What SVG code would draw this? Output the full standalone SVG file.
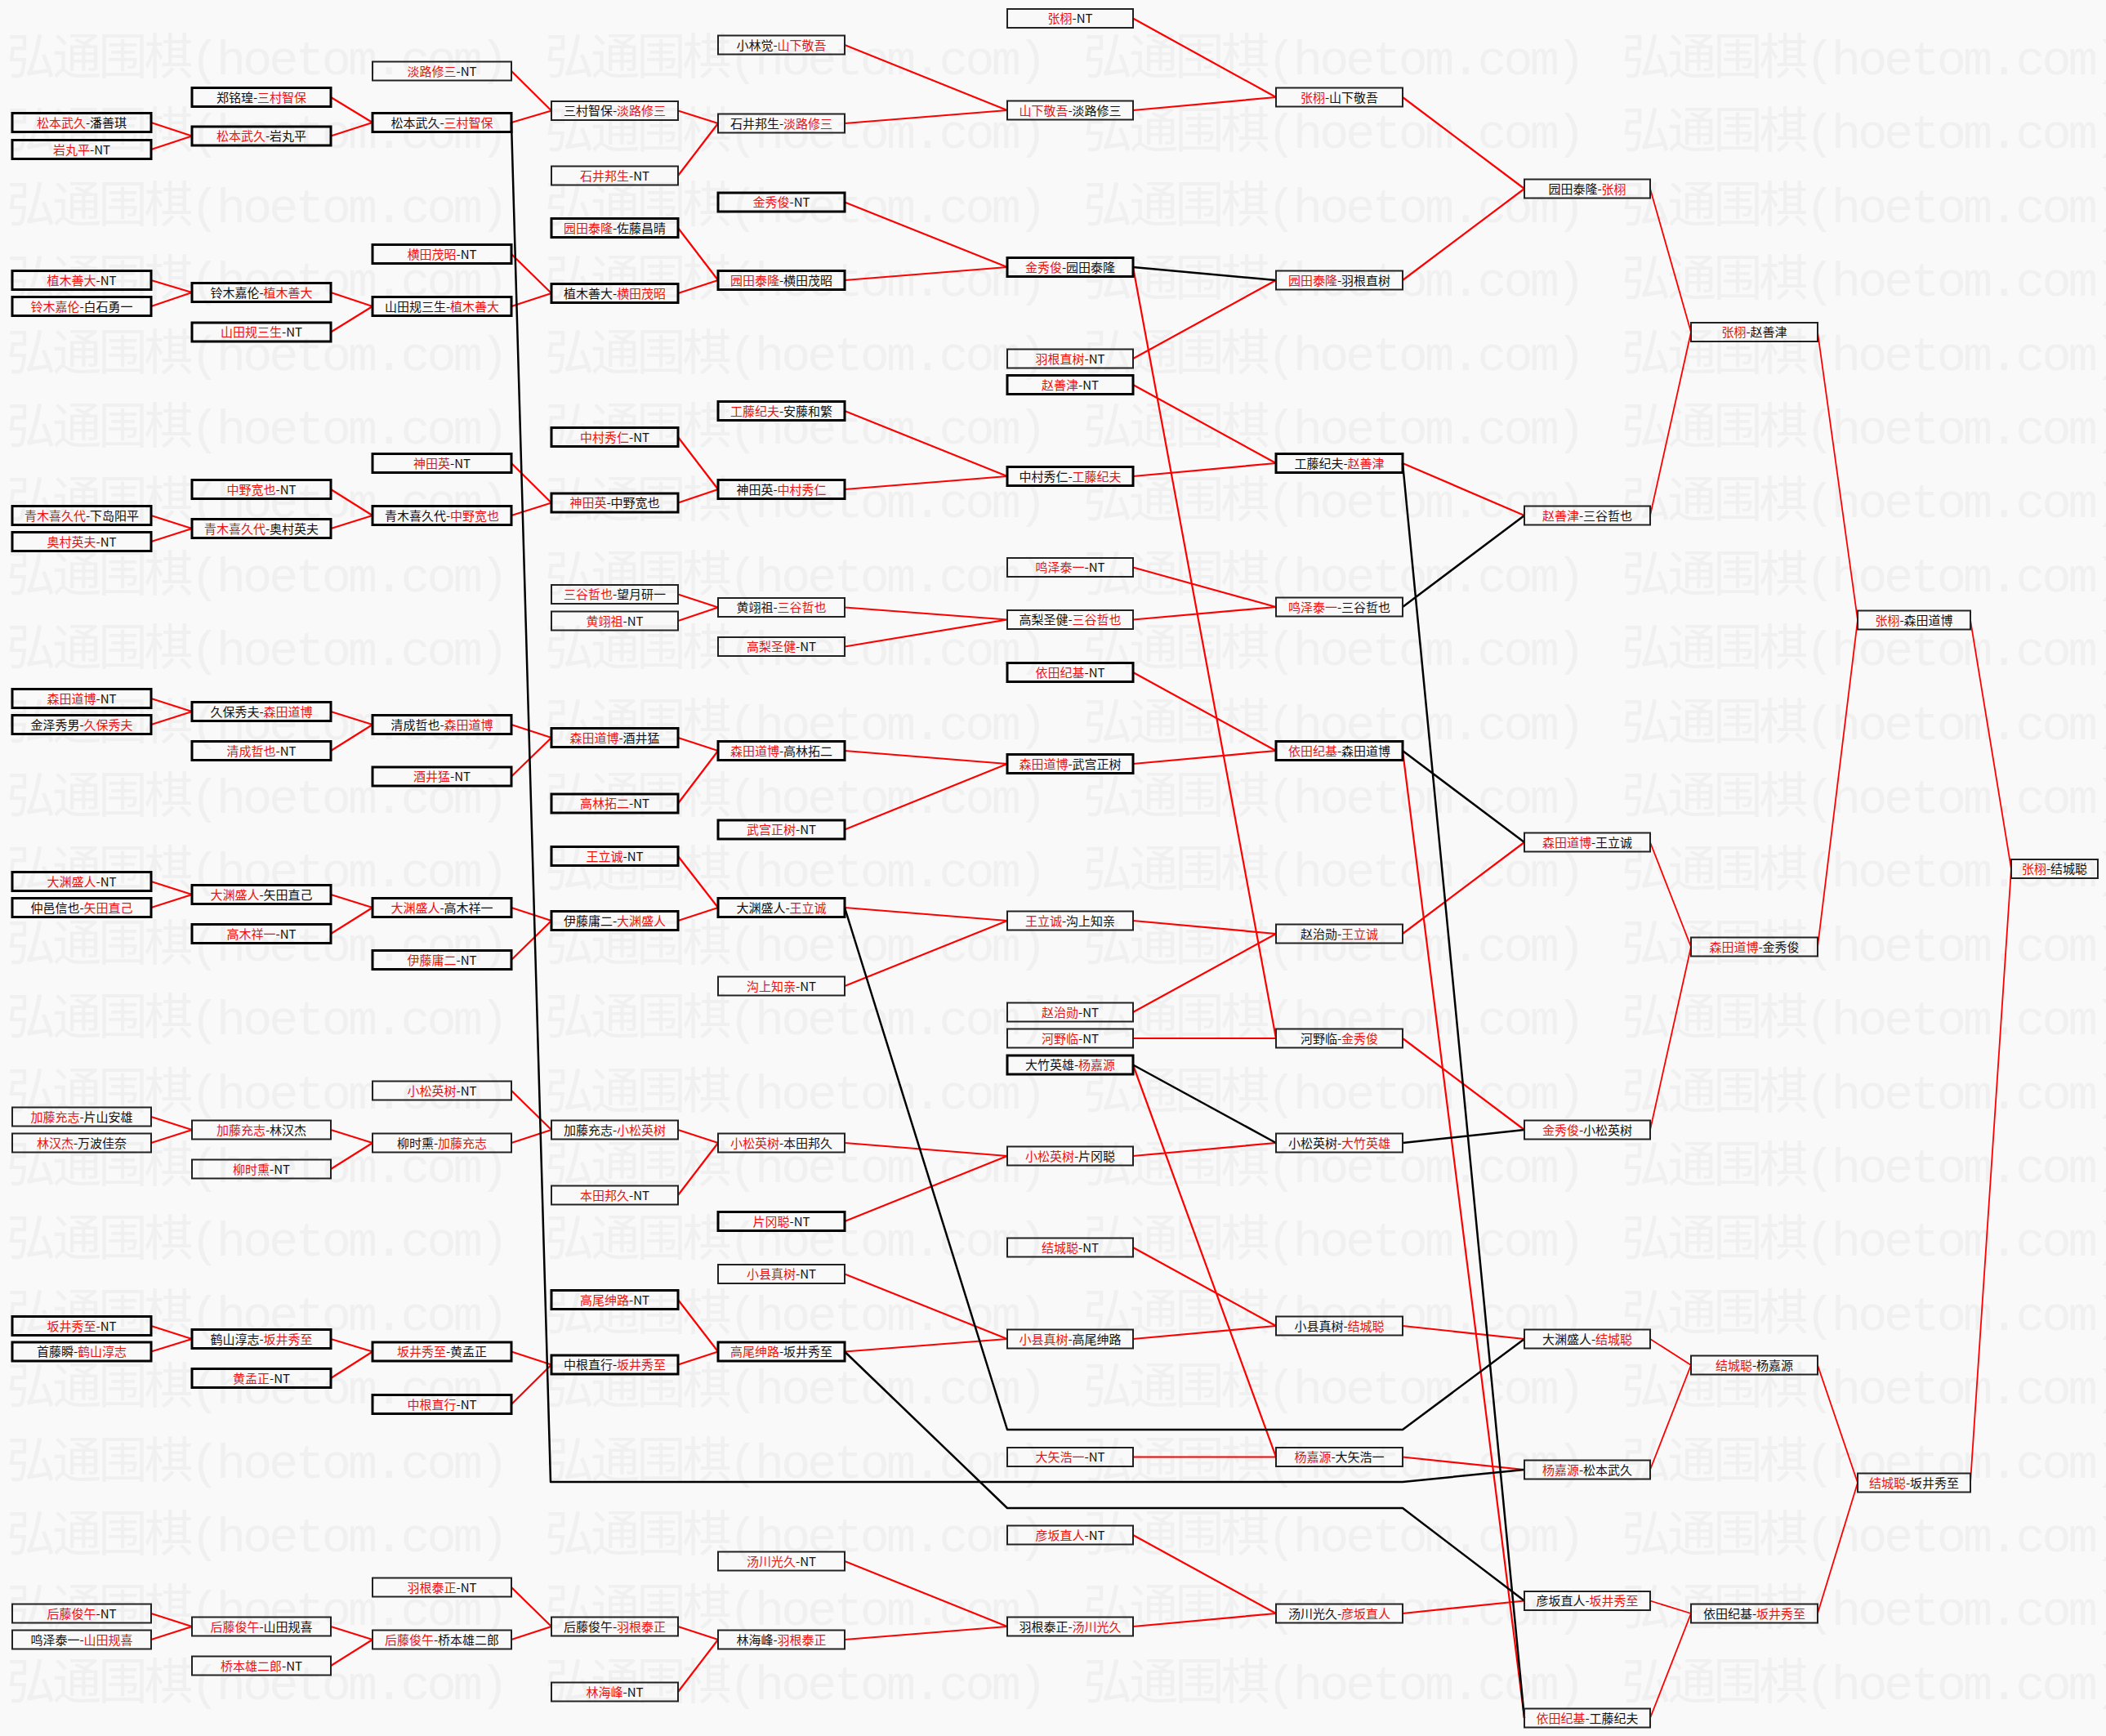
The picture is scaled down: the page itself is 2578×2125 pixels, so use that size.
<svg xmlns="http://www.w3.org/2000/svg" xmlns:xlink="http://www.w3.org/1999/xlink" width="2578" height="2125" viewBox="0 0 2578 2125">
<style>
.bg{fill:#f9f9f9}
.wm text{font-family:"Liberation Mono","Noto Sans CJK SC",monospace;font-size:60px;fill:#f0f0f0}
.n rect{fill:none;stroke:#222;stroke-width:2}
.n.k rect{stroke:#000;stroke-width:3}
.n text{font-family:"Noto Sans CJK SC","Noto Sans",sans-serif;font-size:15px;fill:#111;text-anchor:middle}
.r{fill:#ee1111}
.cr{stroke:#f00;stroke-width:2.2;fill:none}
.crt{stroke:#f00;stroke-width:1.8;fill:none}
.cb{stroke:#000;stroke-width:2.5;fill:none;stroke-linejoin:round}
</style>
<defs>
<g id="wmrow" class="wm">
<text x="8" y="0" textLength="615" lengthAdjust="spacing">弘通围棋(hoetom.com)</text>
<text x="667" y="0" textLength="615" lengthAdjust="spacing">弘通围棋(hoetom.com)</text>
<text x="1326" y="0" textLength="615" lengthAdjust="spacing">弘通围棋(hoetom.com)</text>
<text x="1985" y="0" textLength="615" lengthAdjust="spacing">弘通围棋(hoetom.com)</text>
</g>
</defs>
<rect class="bg" x="0" y="0" width="2578" height="2125"/>
<g id="watermark">
<use xlink:href="#wmrow" y="91"/>
<use xlink:href="#wmrow" y="181.4"/>
<use xlink:href="#wmrow" y="271.8"/>
<use xlink:href="#wmrow" y="362.2"/>
<use xlink:href="#wmrow" y="452.6"/>
<use xlink:href="#wmrow" y="543"/>
<use xlink:href="#wmrow" y="633.4"/>
<use xlink:href="#wmrow" y="723.8"/>
<use xlink:href="#wmrow" y="814.2"/>
<use xlink:href="#wmrow" y="904.6"/>
<use xlink:href="#wmrow" y="995"/>
<use xlink:href="#wmrow" y="1085.4"/>
<use xlink:href="#wmrow" y="1175.8"/>
<use xlink:href="#wmrow" y="1266.2"/>
<use xlink:href="#wmrow" y="1356.6"/>
<use xlink:href="#wmrow" y="1447"/>
<use xlink:href="#wmrow" y="1537.4"/>
<use xlink:href="#wmrow" y="1627.8"/>
<use xlink:href="#wmrow" y="1718.2"/>
<use xlink:href="#wmrow" y="1808.6"/>
<use xlink:href="#wmrow" y="1899"/>
<use xlink:href="#wmrow" y="1989.4"/>
<use xlink:href="#wmrow" y="2079.8"/>
</g>
<g id="connectors">
<path class="cr" d="M185 150L235 166.5M185 183L235 166.5M185 343L235 358M185 375L235 358M185 631L235 647M185 663L235 647M185 855L235 871M185 887L235 871M185 1079L235 1095M185 1111L235 1095M185 1367L235 1383M185 1399L235 1383M185 1623L235 1639M185 1654.5L235 1639M185 1975L235 1991M185 2007L235 1991"/>
<path class="cr" d="M405 119L456 150M405 166.5L456 150M405 358L456 375M405 406.5L456 375M405 599L456 631M405 647L456 631M405 871L456 887M405 919L456 887M405 1095L456 1111M405 1143L456 1111M405 1383L456 1399M405 1431L456 1399M405 1639L456 1654.5M405 1687L456 1654.5M405 1991L456 2007M405 2039L456 2007"/>
<path class="cr" d="M626 87L675 135.5M626 150L675 135.5M626 311L675 359M626 375L675 359M626 567L675 615.5M626 631L675 615.5M626 887L675 903M626 950.5L675 903M626 1111L675 1127M626 1175L675 1127M626 1335L675 1383M626 1399L675 1383M626 1654.5L675 1670.5M626 1719L675 1670.5M626 1943L675 1991M626 2007L675 1991"/>
<path class="cr" d="M830 135.5L879 151M830 215L879 151M830 279L879 343M830 359L879 343M830 535L879 599M830 615.5L879 599M830 727.5L879 743.5M830 760L879 743.5M830 903L879 919M830 983.5L879 919M830 1048L879 1111M830 1127L879 1111M830 1383L879 1399M830 1463L879 1399M830 1591L879 1654.5M830 1670.5L879 1654.5M830 1991L879 2007M830 2071L879 2007"/>
<path class="cr" d="M1034 55L1233 135M1034 151L1233 135M1034 247.5L1233 327M1034 343L1233 327M1034 503L1233 583M1034 599L1233 583M1034 743.5L1233 758.5M1034 791.5L1233 758.5M1034 919L1233 935M1034 1015.5L1233 935M1034 1111L1233 1127M1034 1207L1233 1127M1034 1399L1233 1415M1034 1495L1233 1415M1034 1559.5L1233 1639M1034 1654.5L1233 1639M1034 1911L1233 1991M1034 2007L1233 1991"/>
<path class="cr" d="M1387 22.5L1562 119M1387 135L1562 119M1387 439L1562 343M1387 471L1562 567M1387 583L1562 567M1387 694.5L1562 743M1387 758.5L1562 743M1387 823L1562 919M1387 935L1562 919M1387 1127L1562 1143M1387 1239L1562 1143M1387 1271L1562 1271M1387 327L1562 1271M1387 1415L1562 1399M1387 1527L1562 1623M1387 1639L1562 1623M1387 1783.5L1562 1783.5M1387 1303.5L1562 1783.5M1387 1879L1562 1975M1387 1991L1562 1975"/>
<path class="cr" d="M1717 119L1866 231M1717 343L1866 231M1717 567L1866 631M1717 1143L1866 1031M1717 1271L1866 1383M1717 1623L1866 1639M1717 1783.5L1866 1799M1717 1975L1866 1959.5M1717 919L1866 2103"/>
<path class="crt" d="M2020 231L2070 406.5M2020 631L2070 406.5M2020 1031L2070 1159M2020 1383L2070 1159M2020 1639L2070 1671M2020 1799L2070 1671M2020 1959.5L2070 1975M2020 2103L2070 1975M2225 406.5L2274 759M2225 1159L2274 759M2225 1671L2274 1815M2225 1975L2274 1815M2412 759L2462 1063.5M2412 1815L2462 1063.5"/>
<path class="cb" d="M626 150L674 1814L1717 1814L1866 1799"/>
<path class="cb" d="M1034 1111L1233 1750L1717 1750L1866 1639"/>
<path class="cb" d="M1034 1654.5L1233 1846L1717 1846L1866 1959.5"/>
<path class="cb" d="M1387 327L1562 343M1387 1303.5L1562 1399M1717 567L1866 2103M1717 743L1866 631M1717 919L1866 1031M1717 1399L1866 1383"/>
</g>
<g id="nodes">
<g id="A1" class="n k"><rect x="15" y="138.5" width="170" height="23"/><text x="100" y="155.5"><tspan class="r">松本武久</tspan>-潘善琪</text></g>
<g id="A2" class="n k"><rect x="15" y="171.5" width="170" height="23"/><text x="100" y="188.5"><tspan class="r">岩丸平</tspan>-NT</text></g>
<g id="A3" class="n k"><rect x="15" y="331.5" width="170" height="23"/><text x="100" y="348.5"><tspan class="r">植木善大</tspan>-NT</text></g>
<g id="A4" class="n k"><rect x="15" y="363.5" width="170" height="23"/><text x="100" y="380.5"><tspan class="r">铃木嘉伦</tspan>-白石勇一</text></g>
<g id="A5" class="n k"><rect x="15" y="619.5" width="170" height="23"/><text x="100" y="636.5"><tspan class="r">青木喜久代</tspan>-下岛阳平</text></g>
<g id="A6" class="n k"><rect x="15" y="651.5" width="170" height="23"/><text x="100" y="668.5"><tspan class="r">奥村英夫</tspan>-NT</text></g>
<g id="A7" class="n k"><rect x="15" y="843.5" width="170" height="23"/><text x="100" y="860.5"><tspan class="r">森田道博</tspan>-NT</text></g>
<g id="A8" class="n k"><rect x="15" y="875.5" width="170" height="23"/><text x="100" y="892.5">金泽秀男-<tspan class="r">久保秀夫</tspan></text></g>
<g id="A9" class="n k"><rect x="15" y="1067.5" width="170" height="23"/><text x="100" y="1084.5"><tspan class="r">大渊盛人</tspan>-NT</text></g>
<g id="A10" class="n k"><rect x="15" y="1099.5" width="170" height="23"/><text x="100" y="1116.5">仲邑信也-<tspan class="r">矢田直己</tspan></text></g>
<g id="A11" class="n"><rect x="15" y="1355.5" width="170" height="23"/><text x="100" y="1372.5"><tspan class="r">加藤充志</tspan>-片山安雄</text></g>
<g id="A12" class="n"><rect x="15" y="1387.5" width="170" height="23"/><text x="100" y="1404.5"><tspan class="r">林汉杰</tspan>-万波佳奈</text></g>
<g id="A13" class="n k"><rect x="15" y="1611.5" width="170" height="23"/><text x="100" y="1628.5"><tspan class="r">坂井秀至</tspan>-NT</text></g>
<g id="A14" class="n k"><rect x="15" y="1643" width="170" height="23"/><text x="100" y="1660">首藤瞬-<tspan class="r">鹤山淳志</tspan></text></g>
<g id="A15" class="n"><rect x="15" y="1963.5" width="170" height="23"/><text x="100" y="1980.5"><tspan class="r">后藤俊午</tspan>-NT</text></g>
<g id="A16" class="n"><rect x="15" y="1995.5" width="170" height="23"/><text x="100" y="2012.5">鸣泽泰一-<tspan class="r">山田规喜</tspan></text></g>

<g id="B1" class="n k"><rect x="235" y="107.5" width="170" height="23"/><text x="320" y="124.5">郑铭瑝-<tspan class="r">三村智保</tspan></text></g>
<g id="B2" class="n k"><rect x="235" y="155" width="170" height="23"/><text x="320" y="172"><tspan class="r">松本武久</tspan>-岩丸平</text></g>
<g id="B3" class="n k"><rect x="235" y="346.5" width="170" height="23"/><text x="320" y="363.5">铃木嘉伦-<tspan class="r">植木善大</tspan></text></g>
<g id="B4" class="n k"><rect x="235" y="395" width="170" height="23"/><text x="320" y="412"><tspan class="r">山田规三生</tspan>-NT</text></g>
<g id="B5" class="n k"><rect x="235" y="587.5" width="170" height="23"/><text x="320" y="604.5"><tspan class="r">中野宽也</tspan>-NT</text></g>
<g id="B6" class="n k"><rect x="235" y="635.5" width="170" height="23"/><text x="320" y="652.5"><tspan class="r">青木喜久代</tspan>-奥村英夫</text></g>
<g id="B7" class="n k"><rect x="235" y="859.5" width="170" height="23"/><text x="320" y="876.5">久保秀夫-<tspan class="r">森田道博</tspan></text></g>
<g id="B8" class="n k"><rect x="235" y="907.5" width="170" height="23"/><text x="320" y="924.5"><tspan class="r">清成哲也</tspan>-NT</text></g>
<g id="B9" class="n k"><rect x="235" y="1083.5" width="170" height="23"/><text x="320" y="1100.5"><tspan class="r">大渊盛人</tspan>-矢田直己</text></g>
<g id="B10" class="n k"><rect x="235" y="1131.5" width="170" height="23"/><text x="320" y="1148.5"><tspan class="r">高木祥一</tspan>-NT</text></g>
<g id="B11" class="n"><rect x="235" y="1371.5" width="170" height="23"/><text x="320" y="1388.5"><tspan class="r">加藤充志</tspan>-林汉杰</text></g>
<g id="B12" class="n"><rect x="235" y="1419.5" width="170" height="23"/><text x="320" y="1436.5"><tspan class="r">柳时熏</tspan>-NT</text></g>
<g id="B13" class="n k"><rect x="235" y="1627.5" width="170" height="23"/><text x="320" y="1644.5">鹤山淳志-<tspan class="r">坂井秀至</tspan></text></g>
<g id="B14" class="n k"><rect x="235" y="1675.5" width="170" height="23"/><text x="320" y="1692.5"><tspan class="r">黄孟正</tspan>-NT</text></g>
<g id="B15" class="n"><rect x="235" y="1979.5" width="170" height="23"/><text x="320" y="1996.5"><tspan class="r">后藤俊午</tspan>-山田规喜</text></g>
<g id="B16" class="n"><rect x="235" y="2027.5" width="170" height="23"/><text x="320" y="2044.5"><tspan class="r">桥本雄二郎</tspan>-NT</text></g>

<g id="C1" class="n"><rect x="456" y="75.5" width="170" height="23"/><text x="541" y="92.5"><tspan class="r">淡路修三</tspan>-NT</text></g>
<g id="C2" class="n k"><rect x="456" y="138.5" width="170" height="23"/><text x="541" y="155.5">松本武久-<tspan class="r">三村智保</tspan></text></g>
<g id="C3" class="n k"><rect x="456" y="299.5" width="170" height="23"/><text x="541" y="316.5"><tspan class="r">横田茂昭</tspan>-NT</text></g>
<g id="C4" class="n k"><rect x="456" y="363.5" width="170" height="23"/><text x="541" y="380.5">山田规三生-<tspan class="r">植木善大</tspan></text></g>
<g id="C5" class="n k"><rect x="456" y="555.5" width="170" height="23"/><text x="541" y="572.5"><tspan class="r">神田英</tspan>-NT</text></g>
<g id="C6" class="n k"><rect x="456" y="619.5" width="170" height="23"/><text x="541" y="636.5">青木喜久代-<tspan class="r">中野宽也</tspan></text></g>
<g id="C7" class="n k"><rect x="456" y="875.5" width="170" height="23"/><text x="541" y="892.5">清成哲也-<tspan class="r">森田道博</tspan></text></g>
<g id="C8" class="n k"><rect x="456" y="939" width="170" height="23"/><text x="541" y="956"><tspan class="r">酒井猛</tspan>-NT</text></g>
<g id="C9" class="n k"><rect x="456" y="1099.5" width="170" height="23"/><text x="541" y="1116.5"><tspan class="r">大渊盛人</tspan>-高木祥一</text></g>
<g id="C10" class="n k"><rect x="456" y="1163.5" width="170" height="23"/><text x="541" y="1180.5"><tspan class="r">伊藤庸二</tspan>-NT</text></g>
<g id="C11" class="n"><rect x="456" y="1323.5" width="170" height="23"/><text x="541" y="1340.5"><tspan class="r">小松英树</tspan>-NT</text></g>
<g id="C12" class="n"><rect x="456" y="1387.5" width="170" height="23"/><text x="541" y="1404.5">柳时熏-<tspan class="r">加藤充志</tspan></text></g>
<g id="C13" class="n k"><rect x="456" y="1643" width="170" height="23"/><text x="541" y="1660"><tspan class="r">坂井秀至</tspan>-黄孟正</text></g>
<g id="C14" class="n k"><rect x="456" y="1707.5" width="170" height="23"/><text x="541" y="1724.5"><tspan class="r">中根直行</tspan>-NT</text></g>
<g id="C15" class="n"><rect x="456" y="1931.5" width="170" height="23"/><text x="541" y="1948.5"><tspan class="r">羽根泰正</tspan>-NT</text></g>
<g id="C16" class="n"><rect x="456" y="1995.5" width="170" height="23"/><text x="541" y="2012.5"><tspan class="r">后藤俊午</tspan>-桥本雄二郎</text></g>

<g id="D1" class="n"><rect x="675" y="124" width="155" height="23"/><text x="752.5" y="141">三村智保-<tspan class="r">淡路修三</tspan></text></g>
<g id="D2" class="n"><rect x="675" y="203.5" width="155" height="23"/><text x="752.5" y="220.5"><tspan class="r">石井邦生</tspan>-NT</text></g>
<g id="D3" class="n k"><rect x="675" y="267.5" width="155" height="23"/><text x="752.5" y="284.5"><tspan class="r">园田泰隆</tspan>-佐藤昌晴</text></g>
<g id="D4" class="n k"><rect x="675" y="347.5" width="155" height="23"/><text x="752.5" y="364.5">植木善大-<tspan class="r">横田茂昭</tspan></text></g>
<g id="D5" class="n k"><rect x="675" y="523.5" width="155" height="23"/><text x="752.5" y="540.5"><tspan class="r">中村秀仁</tspan>-NT</text></g>
<g id="D6" class="n k"><rect x="675" y="604" width="155" height="23"/><text x="752.5" y="621"><tspan class="r">神田英</tspan>-中野宽也</text></g>
<g id="D7" class="n"><rect x="675" y="716" width="155" height="23"/><text x="752.5" y="733"><tspan class="r">三谷哲也</tspan>-望月研一</text></g>
<g id="D8" class="n"><rect x="675" y="748.5" width="155" height="23"/><text x="752.5" y="765.5"><tspan class="r">黄翊祖</tspan>-NT</text></g>
<g id="D9" class="n k"><rect x="675" y="891.5" width="155" height="23"/><text x="752.5" y="908.5"><tspan class="r">森田道博</tspan>-酒井猛</text></g>
<g id="D10" class="n k"><rect x="675" y="972" width="155" height="23"/><text x="752.5" y="989"><tspan class="r">高林拓二</tspan>-NT</text></g>
<g id="D11" class="n k"><rect x="675" y="1036.5" width="155" height="23"/><text x="752.5" y="1053.5"><tspan class="r">王立诚</tspan>-NT</text></g>
<g id="D12" class="n k"><rect x="675" y="1115.5" width="155" height="23"/><text x="752.5" y="1132.5">伊藤庸二-<tspan class="r">大渊盛人</tspan></text></g>
<g id="D13" class="n"><rect x="675" y="1371.5" width="155" height="23"/><text x="752.5" y="1388.5">加藤充志-<tspan class="r">小松英树</tspan></text></g>
<g id="D14" class="n"><rect x="675" y="1451.5" width="155" height="23"/><text x="752.5" y="1468.5"><tspan class="r">本田邦久</tspan>-NT</text></g>
<g id="D15" class="n k"><rect x="675" y="1579.5" width="155" height="23"/><text x="752.5" y="1596.5"><tspan class="r">高尾绅路</tspan>-NT</text></g>
<g id="D16" class="n k"><rect x="675" y="1659" width="155" height="23"/><text x="752.5" y="1676">中根直行-<tspan class="r">坂井秀至</tspan></text></g>
<g id="D17" class="n"><rect x="675" y="1979.5" width="155" height="23"/><text x="752.5" y="1996.5">后藤俊午-<tspan class="r">羽根泰正</tspan></text></g>
<g id="D18" class="n"><rect x="675" y="2059.5" width="155" height="23"/><text x="752.5" y="2076.5"><tspan class="r">林海峰</tspan>-NT</text></g>

<g id="E1" class="n"><rect x="879" y="43.5" width="155" height="23"/><text x="956.5" y="60.5">小林觉-<tspan class="r">山下敬吾</tspan></text></g>
<g id="E2" class="n"><rect x="879" y="139.5" width="155" height="23"/><text x="956.5" y="156.5">石井邦生-<tspan class="r">淡路修三</tspan></text></g>
<g id="E3" class="n k"><rect x="879" y="236" width="155" height="23"/><text x="956.5" y="253"><tspan class="r">金秀俊</tspan>-NT</text></g>
<g id="E4" class="n k"><rect x="879" y="331.5" width="155" height="23"/><text x="956.5" y="348.5"><tspan class="r">园田泰隆</tspan>-横田茂昭</text></g>
<g id="E5" class="n k"><rect x="879" y="491.5" width="155" height="23"/><text x="956.5" y="508.5"><tspan class="r">工藤纪夫</tspan>-安藤和繁</text></g>
<g id="E6" class="n k"><rect x="879" y="587.5" width="155" height="23"/><text x="956.5" y="604.5">神田英-<tspan class="r">中村秀仁</tspan></text></g>
<g id="E7" class="n"><rect x="879" y="732" width="155" height="23"/><text x="956.5" y="749">黄翊祖-<tspan class="r">三谷哲也</tspan></text></g>
<g id="E8" class="n"><rect x="879" y="780" width="155" height="23"/><text x="956.5" y="797"><tspan class="r">高梨圣健</tspan>-NT</text></g>
<g id="E9" class="n k"><rect x="879" y="907.5" width="155" height="23"/><text x="956.5" y="924.5"><tspan class="r">森田道博</tspan>-高林拓二</text></g>
<g id="E10" class="n k"><rect x="879" y="1004" width="155" height="23"/><text x="956.5" y="1021"><tspan class="r">武宫正树</tspan>-NT</text></g>
<g id="E11" class="n k"><rect x="879" y="1099.5" width="155" height="23"/><text x="956.5" y="1116.5">大渊盛人-<tspan class="r">王立诚</tspan></text></g>
<g id="E12" class="n"><rect x="879" y="1195.5" width="155" height="23"/><text x="956.5" y="1212.5"><tspan class="r">沟上知亲</tspan>-NT</text></g>
<g id="E13" class="n"><rect x="879" y="1387.5" width="155" height="23"/><text x="956.5" y="1404.5"><tspan class="r">小松英树</tspan>-本田邦久</text></g>
<g id="E14" class="n k"><rect x="879" y="1483.5" width="155" height="23"/><text x="956.5" y="1500.5"><tspan class="r">片冈聪</tspan>-NT</text></g>
<g id="E15" class="n"><rect x="879" y="1548" width="155" height="23"/><text x="956.5" y="1565"><tspan class="r">小县真树</tspan>-NT</text></g>
<g id="E16" class="n k"><rect x="879" y="1643" width="155" height="23"/><text x="956.5" y="1660"><tspan class="r">高尾绅路</tspan>-坂井秀至</text></g>
<g id="E17" class="n"><rect x="879" y="1899.5" width="155" height="23"/><text x="956.5" y="1916.5"><tspan class="r">汤川光久</tspan>-NT</text></g>
<g id="E18" class="n"><rect x="879" y="1995.5" width="155" height="23"/><text x="956.5" y="2012.5">林海峰-<tspan class="r">羽根泰正</tspan></text></g>

<g id="F1" class="n"><rect x="1233" y="11" width="154" height="23"/><text x="1310" y="28"><tspan class="r">张栩</tspan>-NT</text></g>
<g id="F2" class="n"><rect x="1233" y="123.5" width="154" height="23"/><text x="1310" y="140.5"><tspan class="r">山下敬吾</tspan>-淡路修三</text></g>
<g id="F3" class="n k"><rect x="1233" y="315.5" width="154" height="23"/><text x="1310" y="332.5"><tspan class="r">金秀俊</tspan>-园田泰隆</text></g>
<g id="F4" class="n"><rect x="1233" y="427.5" width="154" height="23"/><text x="1310" y="444.5"><tspan class="r">羽根直树</tspan>-NT</text></g>
<g id="F5" class="n k"><rect x="1233" y="459.5" width="154" height="23"/><text x="1310" y="476.5"><tspan class="r">赵善津</tspan>-NT</text></g>
<g id="F6" class="n k"><rect x="1233" y="571.5" width="154" height="23"/><text x="1310" y="588.5">中村秀仁-<tspan class="r">工藤纪夫</tspan></text></g>
<g id="F7" class="n"><rect x="1233" y="683" width="154" height="23"/><text x="1310" y="700"><tspan class="r">鸣泽泰一</tspan>-NT</text></g>
<g id="F8" class="n"><rect x="1233" y="747" width="154" height="23"/><text x="1310" y="764">高梨圣健-<tspan class="r">三谷哲也</tspan></text></g>
<g id="F9" class="n k"><rect x="1233" y="811.5" width="154" height="23"/><text x="1310" y="828.5"><tspan class="r">依田纪基</tspan>-NT</text></g>
<g id="F10" class="n k"><rect x="1233" y="923.5" width="154" height="23"/><text x="1310" y="940.5"><tspan class="r">森田道博</tspan>-武宫正树</text></g>
<g id="F11" class="n"><rect x="1233" y="1115.5" width="154" height="23"/><text x="1310" y="1132.5"><tspan class="r">王立诚</tspan>-沟上知亲</text></g>
<g id="F12" class="n"><rect x="1233" y="1227.5" width="154" height="23"/><text x="1310" y="1244.5"><tspan class="r">赵治勋</tspan>-NT</text></g>
<g id="F13" class="n"><rect x="1233" y="1259.5" width="154" height="23"/><text x="1310" y="1276.5"><tspan class="r">河野临</tspan>-NT</text></g>
<g id="F14" class="n k"><rect x="1233" y="1292" width="154" height="23"/><text x="1310" y="1309">大竹英雄-<tspan class="r">杨嘉源</tspan></text></g>
<g id="F15" class="n"><rect x="1233" y="1403.5" width="154" height="23"/><text x="1310" y="1420.5"><tspan class="r">小松英树</tspan>-片冈聪</text></g>
<g id="F16" class="n"><rect x="1233" y="1515.5" width="154" height="23"/><text x="1310" y="1532.5"><tspan class="r">结城聪</tspan>-NT</text></g>
<g id="F17" class="n"><rect x="1233" y="1627.5" width="154" height="23"/><text x="1310" y="1644.5"><tspan class="r">小县真树</tspan>-高尾绅路</text></g>
<g id="F18" class="n"><rect x="1233" y="1772" width="154" height="23"/><text x="1310" y="1789"><tspan class="r">大矢浩一</tspan>-NT</text></g>
<g id="F19" class="n"><rect x="1233" y="1867.5" width="154" height="23"/><text x="1310" y="1884.5"><tspan class="r">彦坂直人</tspan>-NT</text></g>
<g id="F20" class="n"><rect x="1233" y="1979.5" width="154" height="23"/><text x="1310" y="1996.5">羽根泰正-<tspan class="r">汤川光久</tspan></text></g>

<g id="G1" class="n"><rect x="1562" y="107.5" width="155" height="23"/><text x="1639.5" y="124.5"><tspan class="r">张栩</tspan>-山下敬吾</text></g>
<g id="G2" class="n"><rect x="1562" y="331.5" width="155" height="23"/><text x="1639.5" y="348.5"><tspan class="r">园田泰隆</tspan>-羽根直树</text></g>
<g id="G3" class="n k"><rect x="1562" y="555.5" width="155" height="23"/><text x="1639.5" y="572.5">工藤纪夫-<tspan class="r">赵善津</tspan></text></g>
<g id="G4" class="n"><rect x="1562" y="731.5" width="155" height="23"/><text x="1639.5" y="748.5"><tspan class="r">鸣泽泰一</tspan>-三谷哲也</text></g>
<g id="G5" class="n k"><rect x="1562" y="907.5" width="155" height="23"/><text x="1639.5" y="924.5"><tspan class="r">依田纪基</tspan>-森田道博</text></g>
<g id="G6" class="n"><rect x="1562" y="1131.5" width="155" height="23"/><text x="1639.5" y="1148.5">赵治勋-<tspan class="r">王立诚</tspan></text></g>
<g id="G7" class="n"><rect x="1562" y="1259.5" width="155" height="23"/><text x="1639.5" y="1276.5">河野临-<tspan class="r">金秀俊</tspan></text></g>
<g id="G8" class="n"><rect x="1562" y="1387.5" width="155" height="23"/><text x="1639.5" y="1404.5">小松英树-<tspan class="r">大竹英雄</tspan></text></g>
<g id="G9" class="n"><rect x="1562" y="1611.5" width="155" height="23"/><text x="1639.5" y="1628.5">小县真树-<tspan class="r">结城聪</tspan></text></g>
<g id="G10" class="n"><rect x="1562" y="1772" width="155" height="23"/><text x="1639.5" y="1789"><tspan class="r">杨嘉源</tspan>-大矢浩一</text></g>
<g id="G11" class="n"><rect x="1562" y="1963.5" width="155" height="23"/><text x="1639.5" y="1980.5">汤川光久-<tspan class="r">彦坂直人</tspan></text></g>

<g id="H1" class="n"><rect x="1866" y="219.5" width="154" height="23"/><text x="1943" y="236.5">园田泰隆-<tspan class="r">张栩</tspan></text></g>
<g id="H2" class="n"><rect x="1866" y="619.5" width="154" height="23"/><text x="1943" y="636.5"><tspan class="r">赵善津</tspan>-三谷哲也</text></g>
<g id="H3" class="n"><rect x="1866" y="1019.5" width="154" height="23"/><text x="1943" y="1036.5"><tspan class="r">森田道博</tspan>-王立诚</text></g>
<g id="H4" class="n"><rect x="1866" y="1371.5" width="154" height="23"/><text x="1943" y="1388.5"><tspan class="r">金秀俊</tspan>-小松英树</text></g>
<g id="H5" class="n"><rect x="1866" y="1627.5" width="154" height="23"/><text x="1943" y="1644.5">大渊盛人-<tspan class="r">结城聪</tspan></text></g>
<g id="H6" class="n"><rect x="1866" y="1787.5" width="154" height="23"/><text x="1943" y="1804.5"><tspan class="r">杨嘉源</tspan>-松本武久</text></g>
<g id="H7" class="n"><rect x="1866" y="1948" width="154" height="23"/><text x="1943" y="1965">彦坂直人-<tspan class="r">坂井秀至</tspan></text></g>
<g id="H8" class="n"><rect x="1866" y="2091.5" width="154" height="23"/><text x="1943" y="2108.5"><tspan class="r">依田纪基</tspan>-工藤纪夫</text></g>

<g id="I1" class="n"><rect x="2070" y="395" width="155" height="23"/><text x="2147.5" y="412"><tspan class="r">张栩</tspan>-赵善津</text></g>
<g id="I2" class="n"><rect x="2070" y="1147.5" width="155" height="23"/><text x="2147.5" y="1164.5"><tspan class="r">森田道博</tspan>-金秀俊</text></g>
<g id="I3" class="n"><rect x="2070" y="1659.5" width="155" height="23"/><text x="2147.5" y="1676.5"><tspan class="r">结城聪</tspan>-杨嘉源</text></g>
<g id="I4" class="n"><rect x="2070" y="1963.5" width="155" height="23"/><text x="2147.5" y="1980.5">依田纪基-<tspan class="r">坂井秀至</tspan></text></g>

<g id="J1" class="n"><rect x="2274" y="747.5" width="138" height="23"/><text x="2343" y="764.5"><tspan class="r">张栩</tspan>-森田道博</text></g>
<g id="J2" class="n"><rect x="2274" y="1803.5" width="138" height="23"/><text x="2343" y="1820.5"><tspan class="r">结城聪</tspan>-坂井秀至</text></g>

<g id="K1" class="n"><rect x="2462" y="1052" width="106" height="23"/><text x="2515" y="1069"><tspan class="r">张栩</tspan>-结城聪</text></g>
</g>
</svg>
